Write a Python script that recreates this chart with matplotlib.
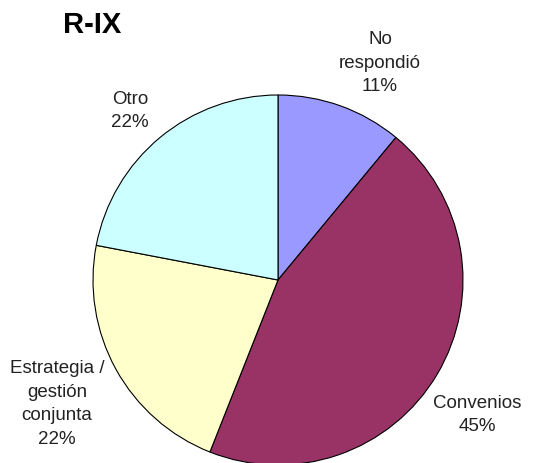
import matplotlib.pyplot as plt

plt.rcParams['font.family'] = ['Liberation Sans', 'DejaVu Sans']

# Data
categories = ['No\nrespondió', 'Convenios', 'Estrategia /\ngestión\nconjunta', 'Otro']
shares = [11, 45, 22, 22]
colors = ['#9999FF', '#993366', '#FFFFCC', '#CCFFFF']

# label centres in figure pixels (from top-left)
label_pos = [(380, 63), (477, 415), (57, 404), (130, 111)]

W, H = 534, 463
cx, cy, r = 278, 280, 185

fig = plt.figure(figsize=(W / 100, H / 100), dpi=100)
ax = fig.add_axes([0, 0, 1, 1])
ax.pie(shares, colors=colors, startangle=90, counterclock=False, radius=1,
       wedgeprops={'edgecolor': 'black', 'linewidth': 0.8})
ax.set_xlim(-cx / r, (W - cx) / r)
ax.set_ylim(-(H - cy) / r, cy / r)
ax.set_aspect('auto')
ax.axis('off')

for cat, val, (px, py) in zip(categories, shares, label_pos):
    fig.text(px / W, 1 - py / H, f"{cat}\n{val}%", ha='center', va='center',
             fontsize=13.5, linespacing=1.5, color='#222222')

fig.text(63 / W, 1 - 25 / H, 'R-IX', fontsize=21, fontweight='bold',
         ha='left', va='center')

fig.savefig('out.png', dpi=100)
